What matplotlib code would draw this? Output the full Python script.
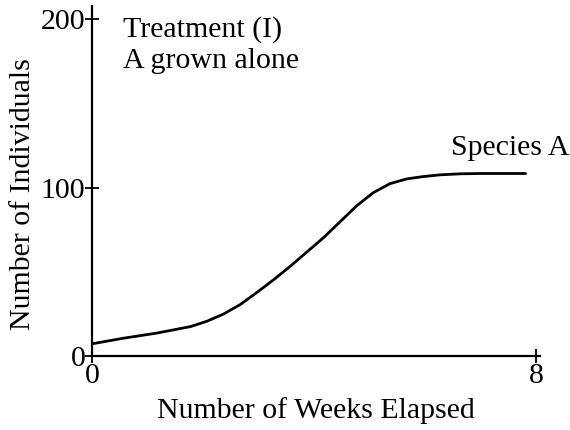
"""Species A growth curve, treatment I."""

import matplotlib
matplotlib.use("Agg")
import matplotlib.pyplot as plt

# data
weeks = [0.0, 0.56, 1.17, 1.77, 2.07, 2.37, 2.67, 2.97, 3.27, 3.57, 3.87,
         4.17, 4.47, 4.77, 5.07, 5.37, 5.67, 5.97, 6.27, 6.63, 6.99, 7.81]
individuals = [7.5, 10.8, 13.9, 17.7, 20.9, 25.2, 30.8, 38.0, 45.5, 53.5, 62.0,
               70.5, 80.0, 89.5, 97.3, 102.6, 105.4, 106.8, 107.8, 108.4,
               108.6, 108.6]
x_ticks = [0, 8]
y_ticks = [0, 100, 200]

plt.rcParams["font.family"] = ["Liberation Serif", "DejaVu Serif"]
fs = 21.5

fig = plt.figure(figsize=(5.7, 4.3), dpi=100)
ax = fig.add_axes([0.1614, 0.171, 0.786, 0.815])

ax.plot(weeks, individuals, color="black", linewidth=2,
        solid_joinstyle="round", solid_capstyle="round")

ax.set_xlim(0, 8.07)
ax.set_ylim(0, 208)
ax.set_xticks(x_ticks)
ax.set_yticks(y_ticks)
ax.tick_params(direction="inout", length=9.5, width=1.3, pad=0, labelsize=fs)

for side in ("top", "right"):
    ax.spines[side].set_visible(False)
for side in ("left", "bottom"):
    ax.spines[side].set_linewidth(1.6)

ax.set_xlabel("Number of Weeks Elapsed", fontsize=fs, labelpad=6)
ax.set_ylabel("Number of Individuals", fontsize=fs)
ax.yaxis.set_label_coords(-0.125, 0.464)

ax.text(0.55, 189.8, "Treatment (I)", va="baseline", ha="left", fontsize=fs)
ax.text(0.55, 171.4, "A grown alone", va="baseline", ha="left", fontsize=fs)
ax.text(6.46, 119.7, "Species A", va="baseline", ha="left", fontsize=fs)

fig.savefig("out.png", dpi=100)
plt.close(fig)
